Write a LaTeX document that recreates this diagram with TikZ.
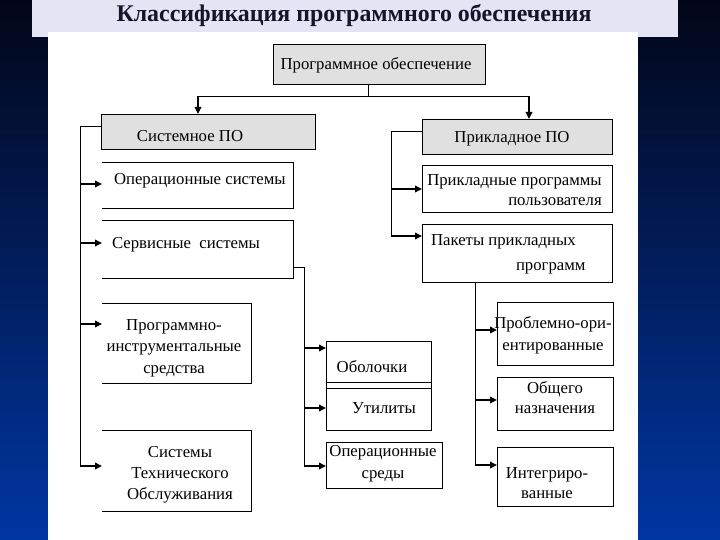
\documentclass[tikz,border=0pt]{standalone}
\usepackage{fontspec}
\setmainfont{Liberation Serif}
\usetikzlibrary{arrows.meta}
\definecolor{navyd}{HTML}{020617}
\definecolor{navym}{HTML}{06228C}
\definecolor{navyb}{HTML}{0036A2}
\definecolor{band}{HTML}{E4E4F4}
\definecolor{boxgray}{HTML}{E0E0E0}
\definecolor{titlec}{HTML}{14142C}
\begin{document}
\begin{tikzpicture}[x=1bp,y=-1bp,
  every node/.style={inner sep=0pt, outer sep=0pt},
  txt/.style={font=\fontsize{16.8}{20}\selectfont},
  frame/.style={draw=black, line width=0.9bp},
  grayframe/.style={frame, fill=boxgray},
  openbox/.style={draw=none},
  bus/.style={line width=0.9bp},
  arr/.style={line width=1.8bp, -{Triangle[length=7bp,width=6.5bp]}}]
\useasboundingbox (0,0) rectangle (720,540);
% background
\shade[top color=navyd, middle color=navym, bottom color=navyb] (0,0) rectangle (720,540);
\fill[band] (32,0) rectangle (678,37);
\fill[white] (48,32) rectangle (638,540);
\node[font=\fontsize{24}{27}\selectfont\bfseries, text=titlec, anchor=mid] (title) at (354,19) {Классификация программного обеспечения};

% boxes
\node[grayframe, minimum width=212bp, minimum height=40bp] (po) at (379,64) {};
\node[grayframe, minimum width=214bp, minimum height=35bp] (sys) at (208,131.5) {};
\node[grayframe, minimum width=190bp, minimum height=35bp] (app) at (517,136.5) {};

\node[openbox, minimum width=191bp, minimum height=46bp] (os) at (197.5,185) {};
\node[openbox, minimum width=191bp, minimum height=58bp] (serv) at (197.5,249) {};
\node[openbox, minimum width=149bp, minimum height=80bp] (pit) at (176.5,343) {};
\node[openbox, minimum width=149bp, minimum height=81bp] (sto) at (176.5,470.5) {};
\foreach \b in {os,serv,pit,sto}
  \draw[frame] (\b.north west) -- (\b.north east) -- (\b.south east) -- (\b.south west);

\node[frame, minimum width=105bp, minimum height=41bp] (shell) at (378.5,361.5) {};
\node[frame, minimum width=105bp, minimum height=42bp] (util) at (378.5,409) {};
\draw[frame] (shell.south west) -- (util.north west);
\draw[frame] (shell.south east) -- (util.north east);
\node[frame, minimum width=116bp, minimum height=46bp] (env) at (384,465) {};

\node[frame, minimum width=190bp, minimum height=47bp] (upp) at (517,188.5) {};
\node[frame, minimum width=190bp, minimum height=58bp] (pkg) at (517,253) {};
\node[frame, minimum width=116bp, minimum height=63bp] (prob) at (555,333.5) {};
\node[frame, minimum width=116bp, minimum height=53bp] (gen) at (555,403.5) {};
\node[frame, minimum width=116bp, minimum height=59bp] (integ) at (555,476.5) {};

% texts
\node[txt, anchor=mid] (tpo) at (376,67) {Программное обеспечение};
\node[txt, anchor=mid] (tsys) at (190,139) {Системное ПО};
\node[txt, anchor=mid] (tapp) at (512,140) {Прикладное ПО};
\node[txt, anchor=mid west] (tos) at (114,182) {Операционные системы};
\node[txt, anchor=mid west] (tserv) at (112,246) {Сервисные~ системы};
\node[txt, align=center, font=\fontsize{16.8}{21.5}\selectfont] (tpit) at (174,348) {Программно-\\инструментальные\\средства};
\node[txt, align=center, font=\fontsize{16.8}{21}\selectfont] (tsto) at (180,475) {Системы\\Технического\\Обслуживания};
\node[txt, anchor=mid] (tshell) at (372,370) {Оболочки};
\node[txt, anchor=mid] (tutil) at (384,411) {Утилиты};
\node[txt, align=center, font=\fontsize{16.8}{22}\selectfont] (tenv) at (383,464) {Операционные\\среды};
\node[txt, align=right, font=\fontsize{16.8}{20}\selectfont] (tupp) at (514.5,190) {Прикладные программы\\пользователя};
\node[txt, anchor=mid west] (tpkg1) at (431,243) {Пакеты прикладных};
\node[txt, anchor=mid west] (tpkg2) at (516,268) {программ};
\node[txt, align=center, font=\fontsize{16.8}{22}\selectfont] (tprob) at (553,335.5) {Проблемно-ори-\\ентированные};
\node[txt, align=center, font=\fontsize{16.8}{20}\selectfont] (tgen) at (555,398) {Общего\\назначения};
\node[txt, align=center, font=\fontsize{16.8}{20}\selectfont] (tinteg) at (547,483) {Интегриро-\\ванные};

% top connectors
\coordinate (j0) at (368,96);
\coordinate (jl) at (198,96);
\coordinate (jr) at (529,96);
\draw[bus] (po.south -| j0) -- (j0);
\draw[bus] (jl) -- (jr);
\draw[arr] (jl) -- (jl |- sys.north);
\draw[arr] (jr) -- (jr |- app.north);

% left bus
\coordinate (lb) at (80,126);
\coordinate (la1) at (80,184);
\coordinate (la2) at (80,243);
\coordinate (la3) at (80,324);
\coordinate (la4) at (80,466);
\draw[bus] (sys.west |- lb) -- (lb) -- (la4);
\draw[arr] (la1) -- (la1 -| os.west);
\draw[arr] (la2) -- (la2 -| serv.west);
\draw[arr] (la3) -- (la3 -| pit.west);
\draw[arr] (la4) -- (la4 -| sto.west);

% middle bus
\coordinate (mb) at (304,267);
\coordinate (ma1) at (304,348);
\coordinate (ma2) at (304,408);
\coordinate (ma3) at (304,466);
\draw[bus] (serv.east |- mb) -- (mb) -- (ma3);
\draw[arr] (ma1) -- (ma1 -| shell.west);
\draw[arr] (ma2) -- (ma2 -| util.west);
\draw[arr] (ma3) -- (ma3 -| env.west);

% right bus
\coordinate (rb) at (391,131);
\coordinate (ra1) at (391,189);
\coordinate (ra2) at (391,236);
\draw[bus] (app.west |- rb) -- (rb) -- (ra2);
\draw[arr] (ra1) -- (ra1 -| upp.west);
\draw[arr] (ra2) -- (ra2 -| pkg.west);

% right lower bus
\coordinate (qa1) at (475,330);
\coordinate (qa2) at (475,400);
\coordinate (qa3) at (475,465);
\draw[bus] (pkg.south -| qa3) -- (qa3);
\draw[arr] (qa1) -- (qa1 -| prob.west);
\draw[arr] (qa2) -- (qa2 -| gen.west);
\draw[arr] (qa3) -- (qa3 -| integ.west);
\end{tikzpicture}
\end{document}
